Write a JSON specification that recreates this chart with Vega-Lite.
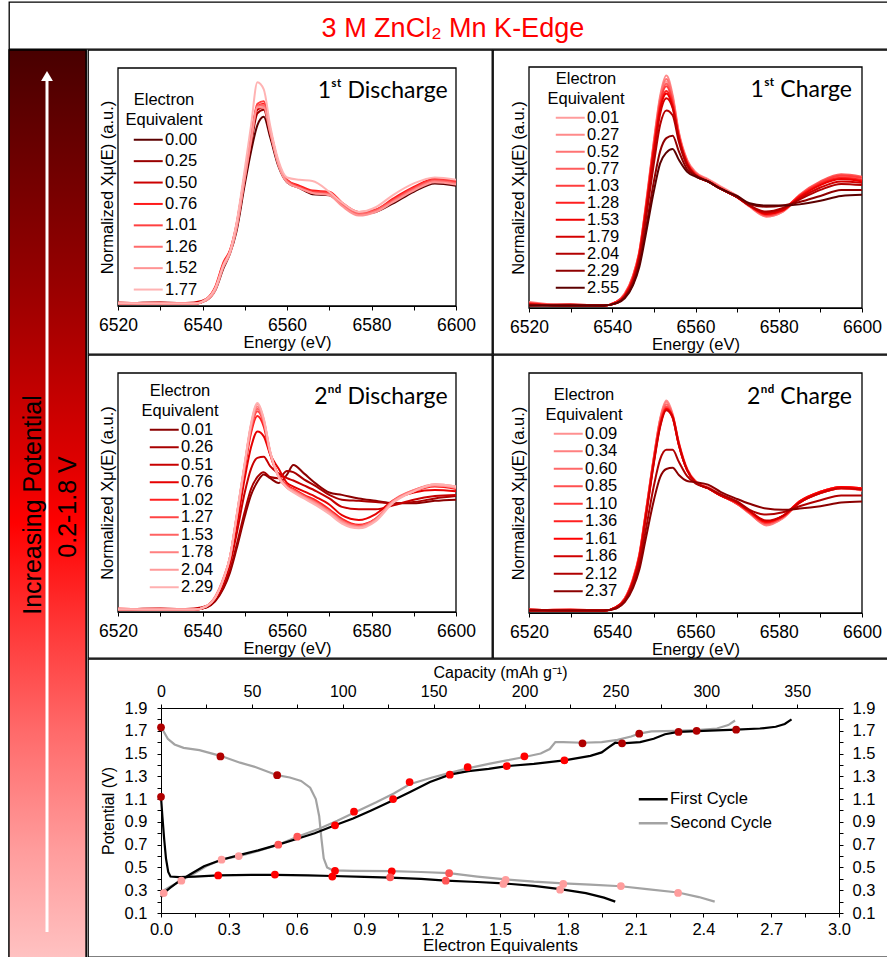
{
"$schema": "https://vega.github.io/schema/vega-lite/v6.json",
"padding": {"left": 7, "top": 1, "right": 0, "bottom": 0},
"background": "#ffffff",
"config": {
  "view": {"stroke": "#000000", "strokeWidth": 1.3},
  "font": "Liberation Sans",
  "axis": {"labelFont": "Liberation Sans", "titleFont": "Liberation Sans", "labelColor": "#000", "titleColor": "#000", "titleFontWeight": "normal", "domainColor": "#000", "tickColor": "#000", "grid": false, "labelFlush": false, "labelOverlap": false},
  "legend": {"labelFont": "Liberation Sans", "titleFont": "Liberation Sans", "labelColor": "#000", "titleColor": "#000", "titleFontWeight": "normal", "padding": 0}
},
"datasets": {
"x1": [
{"k":"0.00","e":6520,"m":0.02},{"k":"0.00","e":6530,"m":0.03},{"k":"0.00","e":6538,"m":0.02},{"k":"0.00","e":6541,"m":0.05},{"k":"0.00","e":6543,"m":0.13},{"k":"0.00","e":6545,"m":0.32},{"k":"0.00","e":6546.5,"m":0.44},{"k":"0.00","e":6548,"m":0.62},{"k":"0.00","e":6550,"m":1.02},{"k":"0.00","e":6551.5,"m":1.30},{"k":"0.00","e":6553,"m":1.52},{"k":"0.00","e":6554.5,"m":1.59},{"k":"0.00","e":6556,"m":1.42},{"k":"0.00","e":6558,"m":1.17},{"k":"0.00","e":6560,"m":1.04},{"k":"0.00","e":6563,"m":0.99},{"k":"0.00","e":6566,"m":0.94},{"k":"0.00","e":6570,"m":0.93},{"k":"0.00","e":6573,"m":0.85},{"k":"0.00","e":6577,"m":0.77},{"k":"0.00","e":6581,"m":0.79},{"k":"0.00","e":6585,"m":0.86},{"k":"0.00","e":6590,"m":0.96},{"k":"0.00","e":6595,"m":1.03},{"k":"0.00","e":6600,"m":1.01},
{"k":"0.25","e":6520,"m":0.02},{"k":"0.25","e":6530,"m":0.02},{"k":"0.25","e":6538,"m":0.02},{"k":"0.25","e":6541,"m":0.06},{"k":"0.25","e":6543,"m":0.14},{"k":"0.25","e":6545,"m":0.34},{"k":"0.25","e":6546.5,"m":0.45},{"k":"0.25","e":6548,"m":0.64},{"k":"0.25","e":6550,"m":1.06},{"k":"0.25","e":6551.5,"m":1.36},{"k":"0.25","e":6553,"m":1.62},{"k":"0.25","e":6554.5,"m":1.65},{"k":"0.25","e":6556,"m":1.45},{"k":"0.25","e":6558,"m":1.19},{"k":"0.25","e":6560,"m":1.05},{"k":"0.25","e":6563,"m":1.00},{"k":"0.25","e":6566,"m":0.95},{"k":"0.25","e":6570,"m":0.94},{"k":"0.25","e":6573,"m":0.86},{"k":"0.25","e":6577,"m":0.78},{"k":"0.25","e":6581,"m":0.80},{"k":"0.25","e":6585,"m":0.88},{"k":"0.25","e":6590,"m":0.98},{"k":"0.25","e":6595,"m":1.05},{"k":"0.25","e":6600,"m":1.03},
{"k":"0.50","e":6520,"m":0.03},{"k":"0.50","e":6530,"m":0.02},{"k":"0.50","e":6538,"m":0.03},{"k":"0.50","e":6541,"m":0.06},{"k":"0.50","e":6543,"m":0.15},{"k":"0.50","e":6545,"m":0.35},{"k":"0.50","e":6546.5,"m":0.46},{"k":"0.50","e":6548,"m":0.66},{"k":"0.50","e":6550,"m":1.08},{"k":"0.50","e":6551.5,"m":1.39},{"k":"0.50","e":6553,"m":1.65},{"k":"0.50","e":6554.5,"m":1.67},{"k":"0.50","e":6556,"m":1.46},{"k":"0.50","e":6558,"m":1.19},{"k":"0.50","e":6560,"m":1.05},{"k":"0.50","e":6563,"m":1.00},{"k":"0.50","e":6566,"m":0.96},{"k":"0.50","e":6570,"m":0.95},{"k":"0.50","e":6573,"m":0.86},{"k":"0.50","e":6577,"m":0.78},{"k":"0.50","e":6581,"m":0.80},{"k":"0.50","e":6585,"m":0.89},{"k":"0.50","e":6590,"m":0.99},{"k":"0.50","e":6595,"m":1.06},{"k":"0.50","e":6600,"m":1.04},
{"k":"0.76","e":6520,"m":0.02},{"k":"0.76","e":6530,"m":0.02},{"k":"0.76","e":6538,"m":0.02},{"k":"0.76","e":6541,"m":0.06},{"k":"0.76","e":6543,"m":0.16},{"k":"0.76","e":6545,"m":0.37},{"k":"0.76","e":6546.5,"m":0.47},{"k":"0.76","e":6548,"m":0.68},{"k":"0.76","e":6550,"m":1.11},{"k":"0.76","e":6551.5,"m":1.42},{"k":"0.76","e":6553,"m":1.68},{"k":"0.76","e":6554.5,"m":1.70},{"k":"0.76","e":6556,"m":1.48},{"k":"0.76","e":6558,"m":1.20},{"k":"0.76","e":6560,"m":1.06},{"k":"0.76","e":6563,"m":1.01},{"k":"0.76","e":6566,"m":0.97},{"k":"0.76","e":6570,"m":0.96},{"k":"0.76","e":6573,"m":0.87},{"k":"0.76","e":6577,"m":0.79},{"k":"0.76","e":6581,"m":0.81},{"k":"0.76","e":6585,"m":0.90},{"k":"0.76","e":6590,"m":1.00},{"k":"0.76","e":6595,"m":1.07},{"k":"0.76","e":6600,"m":1.05},
{"k":"1.01","e":6520,"m":0.02},{"k":"1.01","e":6530,"m":0.03},{"k":"1.01","e":6538,"m":0.02},{"k":"1.01","e":6541,"m":0.06},{"k":"1.01","e":6543,"m":0.15},{"k":"1.01","e":6545,"m":0.36},{"k":"1.01","e":6546.5,"m":0.46},{"k":"1.01","e":6548,"m":0.67},{"k":"1.01","e":6550,"m":1.10},{"k":"1.01","e":6551.5,"m":1.42},{"k":"1.01","e":6553,"m":1.70},{"k":"1.01","e":6554.5,"m":1.72},{"k":"1.01","e":6556,"m":1.49},{"k":"1.01","e":6558,"m":1.20},{"k":"1.01","e":6560,"m":1.06},{"k":"1.01","e":6563,"m":1.00},{"k":"1.01","e":6566,"m":0.96},{"k":"1.01","e":6570,"m":0.95},{"k":"1.01","e":6573,"m":0.86},{"k":"1.01","e":6577,"m":0.78},{"k":"1.01","e":6581,"m":0.81},{"k":"1.01","e":6585,"m":0.89},{"k":"1.01","e":6590,"m":0.99},{"k":"1.01","e":6595,"m":1.06},{"k":"1.01","e":6600,"m":1.04},
{"k":"1.26","e":6520,"m":0.02},{"k":"1.26","e":6530,"m":0.02},{"k":"1.26","e":6538,"m":0.02},{"k":"1.26","e":6541,"m":0.05},{"k":"1.26","e":6543,"m":0.14},{"k":"1.26","e":6545,"m":0.34},{"k":"1.26","e":6546.5,"m":0.45},{"k":"1.26","e":6548,"m":0.65},{"k":"1.26","e":6550,"m":1.08},{"k":"1.26","e":6551.5,"m":1.40},{"k":"1.26","e":6553,"m":1.68},{"k":"1.26","e":6554.5,"m":1.69},{"k":"1.26","e":6556,"m":1.47},{"k":"1.26","e":6558,"m":1.19},{"k":"1.26","e":6560,"m":1.05},{"k":"1.26","e":6563,"m":0.99},{"k":"1.26","e":6566,"m":0.95},{"k":"1.26","e":6570,"m":0.94},{"k":"1.26","e":6573,"m":0.85},{"k":"1.26","e":6577,"m":0.77},{"k":"1.26","e":6581,"m":0.80},{"k":"1.26","e":6585,"m":0.88},{"k":"1.26","e":6590,"m":0.98},{"k":"1.26","e":6595,"m":1.05},{"k":"1.26","e":6600,"m":1.03},
{"k":"1.52","e":6520,"m":0.03},{"k":"1.52","e":6530,"m":0.02},{"k":"1.52","e":6538,"m":0.02},{"k":"1.52","e":6541,"m":0.05},{"k":"1.52","e":6543,"m":0.13},{"k":"1.52","e":6545,"m":0.33},{"k":"1.52","e":6546.5,"m":0.44},{"k":"1.52","e":6548,"m":0.64},{"k":"1.52","e":6550,"m":1.07},{"k":"1.52","e":6551.5,"m":1.39},{"k":"1.52","e":6553,"m":1.67},{"k":"1.52","e":6554.5,"m":1.67},{"k":"1.52","e":6556,"m":1.46},{"k":"1.52","e":6558,"m":1.18},{"k":"1.52","e":6560,"m":1.04},{"k":"1.52","e":6563,"m":0.99},{"k":"1.52","e":6566,"m":0.95},{"k":"1.52","e":6570,"m":0.93},{"k":"1.52","e":6573,"m":0.84},{"k":"1.52","e":6577,"m":0.76},{"k":"1.52","e":6581,"m":0.79},{"k":"1.52","e":6585,"m":0.87},{"k":"1.52","e":6590,"m":0.97},{"k":"1.52","e":6595,"m":1.04},{"k":"1.52","e":6600,"m":1.02},
{"k":"1.77","e":6520,"m":0.02},{"k":"1.77","e":6530,"m":0.02},{"k":"1.77","e":6538,"m":0.02},{"k":"1.77","e":6541,"m":0.06},{"k":"1.77","e":6543,"m":0.15},{"k":"1.77","e":6545,"m":0.35},{"k":"1.77","e":6546.5,"m":0.46},{"k":"1.77","e":6548,"m":0.69},{"k":"1.77","e":6550,"m":1.15},{"k":"1.77","e":6551.5,"m":1.52},{"k":"1.77","e":6553,"m":1.88},{"k":"1.77","e":6554.5,"m":1.82},{"k":"1.77","e":6556,"m":1.52},{"k":"1.77","e":6558,"m":1.22},{"k":"1.77","e":6560,"m":1.08},{"k":"1.77","e":6563,"m":1.06},{"k":"1.77","e":6566,"m":1.05},{"k":"1.77","e":6570,"m":0.96},{"k":"1.77","e":6573,"m":0.87},{"k":"1.77","e":6577,"m":0.79},{"k":"1.77","e":6581,"m":0.83},{"k":"1.77","e":6585,"m":0.93},{"k":"1.77","e":6590,"m":1.03},{"k":"1.77","e":6595,"m":1.08},{"k":"1.77","e":6600,"m":1.06}
],
"x2": [
{"k":"0.01","e":6520,"m":0.04},{"k":"0.01","e":6530,"m":0.02},{"k":"0.01","e":6538,"m":0.02},{"k":"0.01","e":6541,"m":0.05},{"k":"0.01","e":6543,"m":0.11},{"k":"0.01","e":6545,"m":0.26},{"k":"0.01","e":6546.5,"m":0.46},{"k":"0.01","e":6548,"m":0.82},{"k":"0.01","e":6550,"m":1.36},{"k":"0.01","e":6551.5,"m":1.72},{"k":"0.01","e":6553,"m":1.88},{"k":"0.01","e":6554.5,"m":1.74},{"k":"0.01","e":6556,"m":1.44},{"k":"0.01","e":6558,"m":1.22},{"k":"0.01","e":6560,"m":1.12},{"k":"0.01","e":6563,"m":1.06},{"k":"0.01","e":6566,"m":1.00},{"k":"0.01","e":6570,"m":0.93},{"k":"0.01","e":6573,"m":0.85},{"k":"0.01","e":6577,"m":0.77},{"k":"0.01","e":6581,"m":0.81},{"k":"0.01","e":6585,"m":0.93},{"k":"0.01","e":6590,"m":1.03},{"k":"0.01","e":6595,"m":1.08},{"k":"0.01","e":6600,"m":1.06},
{"k":"0.27","e":6520,"m":0.03},{"k":"0.27","e":6530,"m":0.03},{"k":"0.27","e":6538,"m":0.02},{"k":"0.27","e":6541,"m":0.05},{"k":"0.27","e":6543,"m":0.12},{"k":"0.27","e":6545,"m":0.27},{"k":"0.27","e":6546.5,"m":0.47},{"k":"0.27","e":6548,"m":0.84},{"k":"0.27","e":6550,"m":1.39},{"k":"0.27","e":6551.5,"m":1.76},{"k":"0.27","e":6553,"m":1.93},{"k":"0.27","e":6554.5,"m":1.77},{"k":"0.27","e":6556,"m":1.46},{"k":"0.27","e":6558,"m":1.23},{"k":"0.27","e":6560,"m":1.13},{"k":"0.27","e":6563,"m":1.07},{"k":"0.27","e":6566,"m":1.01},{"k":"0.27","e":6570,"m":0.93},{"k":"0.27","e":6573,"m":0.85},{"k":"0.27","e":6577,"m":0.76},{"k":"0.27","e":6581,"m":0.80},{"k":"0.27","e":6585,"m":0.93},{"k":"0.27","e":6590,"m":1.04},{"k":"0.27","e":6595,"m":1.10},{"k":"0.27","e":6600,"m":1.08},
{"k":"0.52","e":6520,"m":0.05},{"k":"0.52","e":6530,"m":0.02},{"k":"0.52","e":6538,"m":0.02},{"k":"0.52","e":6541,"m":0.05},{"k":"0.52","e":6543,"m":0.12},{"k":"0.52","e":6545,"m":0.27},{"k":"0.52","e":6546.5,"m":0.47},{"k":"0.52","e":6548,"m":0.83},{"k":"0.52","e":6550,"m":1.38},{"k":"0.52","e":6551.5,"m":1.74},{"k":"0.52","e":6553,"m":1.90},{"k":"0.52","e":6554.5,"m":1.75},{"k":"0.52","e":6556,"m":1.45},{"k":"0.52","e":6558,"m":1.22},{"k":"0.52","e":6560,"m":1.12},{"k":"0.52","e":6563,"m":1.06},{"k":"0.52","e":6566,"m":1.00},{"k":"0.52","e":6570,"m":0.92},{"k":"0.52","e":6573,"m":0.84},{"k":"0.52","e":6577,"m":0.76},{"k":"0.52","e":6581,"m":0.80},{"k":"0.52","e":6585,"m":0.92},{"k":"0.52","e":6590,"m":1.03},{"k":"0.52","e":6595,"m":1.09},{"k":"0.52","e":6600,"m":1.07},
{"k":"0.77","e":6520,"m":0.03},{"k":"0.77","e":6530,"m":0.02},{"k":"0.77","e":6538,"m":0.02},{"k":"0.77","e":6541,"m":0.05},{"k":"0.77","e":6543,"m":0.11},{"k":"0.77","e":6545,"m":0.26},{"k":"0.77","e":6546.5,"m":0.46},{"k":"0.77","e":6548,"m":0.82},{"k":"0.77","e":6550,"m":1.36},{"k":"0.77","e":6551.5,"m":1.71},{"k":"0.77","e":6553,"m":1.86},{"k":"0.77","e":6554.5,"m":1.72},{"k":"0.77","e":6556,"m":1.44},{"k":"0.77","e":6558,"m":1.21},{"k":"0.77","e":6560,"m":1.12},{"k":"0.77","e":6563,"m":1.06},{"k":"0.77","e":6566,"m":1.00},{"k":"0.77","e":6570,"m":0.92},{"k":"0.77","e":6573,"m":0.85},{"k":"0.77","e":6577,"m":0.77},{"k":"0.77","e":6581,"m":0.81},{"k":"0.77","e":6585,"m":0.94},{"k":"0.77","e":6590,"m":1.05},{"k":"0.77","e":6595,"m":1.11},{"k":"0.77","e":6600,"m":1.09},
{"k":"1.03","e":6520,"m":0.02},{"k":"1.03","e":6530,"m":0.03},{"k":"1.03","e":6538,"m":0.02},{"k":"1.03","e":6541,"m":0.05},{"k":"1.03","e":6543,"m":0.11},{"k":"1.03","e":6545,"m":0.26},{"k":"1.03","e":6546.5,"m":0.45},{"k":"1.03","e":6548,"m":0.81},{"k":"1.03","e":6550,"m":1.35},{"k":"1.03","e":6551.5,"m":1.70},{"k":"1.03","e":6553,"m":1.84},{"k":"1.03","e":6554.5,"m":1.71},{"k":"1.03","e":6556,"m":1.43},{"k":"1.03","e":6558,"m":1.21},{"k":"1.03","e":6560,"m":1.11},{"k":"1.03","e":6563,"m":1.05},{"k":"1.03","e":6566,"m":0.99},{"k":"1.03","e":6570,"m":0.92},{"k":"1.03","e":6573,"m":0.85},{"k":"1.03","e":6577,"m":0.77},{"k":"1.03","e":6581,"m":0.81},{"k":"1.03","e":6585,"m":0.93},{"k":"1.03","e":6590,"m":1.04},{"k":"1.03","e":6595,"m":1.10},{"k":"1.03","e":6600,"m":1.08},
{"k":"1.28","e":6520,"m":0.04},{"k":"1.28","e":6530,"m":0.02},{"k":"1.28","e":6538,"m":0.02},{"k":"1.28","e":6541,"m":0.05},{"k":"1.28","e":6543,"m":0.11},{"k":"1.28","e":6545,"m":0.25},{"k":"1.28","e":6546.5,"m":0.45},{"k":"1.28","e":6548,"m":0.80},{"k":"1.28","e":6550,"m":1.33},{"k":"1.28","e":6551.5,"m":1.67},{"k":"1.28","e":6553,"m":1.80},{"k":"1.28","e":6554.5,"m":1.69},{"k":"1.28","e":6556,"m":1.42},{"k":"1.28","e":6558,"m":1.20},{"k":"1.28","e":6560,"m":1.11},{"k":"1.28","e":6563,"m":1.05},{"k":"1.28","e":6566,"m":0.99},{"k":"1.28","e":6570,"m":0.92},{"k":"1.28","e":6573,"m":0.85},{"k":"1.28","e":6577,"m":0.78},{"k":"1.28","e":6581,"m":0.82},{"k":"1.28","e":6585,"m":0.93},{"k":"1.28","e":6590,"m":1.03},{"k":"1.28","e":6595,"m":1.08},{"k":"1.28","e":6600,"m":1.06},
{"k":"1.53","e":6520,"m":0.03},{"k":"1.53","e":6530,"m":0.02},{"k":"1.53","e":6538,"m":0.02},{"k":"1.53","e":6541,"m":0.04},{"k":"1.53","e":6543,"m":0.10},{"k":"1.53","e":6545,"m":0.24},{"k":"1.53","e":6546.5,"m":0.44},{"k":"1.53","e":6548,"m":0.79},{"k":"1.53","e":6550,"m":1.31},{"k":"1.53","e":6551.5,"m":1.65},{"k":"1.53","e":6553,"m":1.78},{"k":"1.53","e":6554.5,"m":1.67},{"k":"1.53","e":6556,"m":1.41},{"k":"1.53","e":6558,"m":1.20},{"k":"1.53","e":6560,"m":1.10},{"k":"1.53","e":6563,"m":1.05},{"k":"1.53","e":6566,"m":0.99},{"k":"1.53","e":6570,"m":0.92},{"k":"1.53","e":6573,"m":0.85},{"k":"1.53","e":6577,"m":0.78},{"k":"1.53","e":6581,"m":0.81},{"k":"1.53","e":6585,"m":0.92},{"k":"1.53","e":6590,"m":1.02},{"k":"1.53","e":6595,"m":1.07},{"k":"1.53","e":6600,"m":1.05},
{"k":"1.79","e":6520,"m":0.02},{"k":"1.79","e":6530,"m":0.03},{"k":"1.79","e":6538,"m":0.02},{"k":"1.79","e":6541,"m":0.04},{"k":"1.79","e":6543,"m":0.10},{"k":"1.79","e":6545,"m":0.23},{"k":"1.79","e":6546.5,"m":0.42},{"k":"1.79","e":6548,"m":0.76},{"k":"1.79","e":6550,"m":1.27},{"k":"1.79","e":6551.5,"m":1.61},{"k":"1.79","e":6553,"m":1.74},{"k":"1.79","e":6554.5,"m":1.66},{"k":"1.79","e":6556,"m":1.41},{"k":"1.79","e":6558,"m":1.19},{"k":"1.79","e":6560,"m":1.10},{"k":"1.79","e":6563,"m":1.05},{"k":"1.79","e":6566,"m":0.99},{"k":"1.79","e":6570,"m":0.92},{"k":"1.79","e":6573,"m":0.85},{"k":"1.79","e":6577,"m":0.79},{"k":"1.79","e":6581,"m":0.82},{"k":"1.79","e":6585,"m":0.91},{"k":"1.79","e":6590,"m":1.00},{"k":"1.79","e":6595,"m":1.05},{"k":"1.79","e":6600,"m":1.04},
{"k":"2.04","e":6520,"m":0.03},{"k":"2.04","e":6530,"m":0.02},{"k":"2.04","e":6538,"m":0.02},{"k":"2.04","e":6541,"m":0.04},{"k":"2.04","e":6543,"m":0.09},{"k":"2.04","e":6545,"m":0.22},{"k":"2.04","e":6546.5,"m":0.40},{"k":"2.04","e":6548,"m":0.72},{"k":"2.04","e":6550,"m":1.20},{"k":"2.04","e":6551.5,"m":1.52},{"k":"2.04","e":6553,"m":1.64},{"k":"2.04","e":6554.5,"m":1.60},{"k":"2.04","e":6556,"m":1.38},{"k":"2.04","e":6558,"m":1.18},{"k":"2.04","e":6560,"m":1.10},{"k":"2.04","e":6563,"m":1.05},{"k":"2.04","e":6566,"m":0.99},{"k":"2.04","e":6570,"m":0.92},{"k":"2.04","e":6573,"m":0.85},{"k":"2.04","e":6577,"m":0.80},{"k":"2.04","e":6581,"m":0.83},{"k":"2.04","e":6585,"m":0.90},{"k":"2.04","e":6590,"m":0.98},{"k":"2.04","e":6595,"m":1.03},{"k":"2.04","e":6600,"m":1.02},
{"k":"2.29","e":6520,"m":0.02},{"k":"2.29","e":6530,"m":0.02},{"k":"2.29","e":6538,"m":0.02},{"k":"2.29","e":6541,"m":0.04},{"k":"2.29","e":6543,"m":0.09},{"k":"2.29","e":6545,"m":0.20},{"k":"2.29","e":6546.5,"m":0.37},{"k":"2.29","e":6548,"m":0.64},{"k":"2.29","e":6550,"m":1.05},{"k":"2.29","e":6551.5,"m":1.30},{"k":"2.29","e":6553,"m":1.41},{"k":"2.29","e":6554.5,"m":1.43},{"k":"2.29","e":6556,"m":1.30},{"k":"2.29","e":6558,"m":1.15},{"k":"2.29","e":6560,"m":1.10},{"k":"2.29","e":6563,"m":1.05},{"k":"2.29","e":6566,"m":0.99},{"k":"2.29","e":6570,"m":0.92},{"k":"2.29","e":6573,"m":0.86},{"k":"2.29","e":6577,"m":0.84},{"k":"2.29","e":6581,"m":0.85},{"k":"2.29","e":6585,"m":0.88},{"k":"2.29","e":6590,"m":0.93},{"k":"2.29","e":6595,"m":0.98},{"k":"2.29","e":6600,"m":0.98},
{"k":"2.55","e":6520,"m":0.02},{"k":"2.55","e":6530,"m":0.02},{"k":"2.55","e":6538,"m":0.02},{"k":"2.55","e":6541,"m":0.04},{"k":"2.55","e":6543,"m":0.08},{"k":"2.55","e":6545,"m":0.19},{"k":"2.55","e":6546.5,"m":0.34},{"k":"2.55","e":6548,"m":0.60},{"k":"2.55","e":6550,"m":0.97},{"k":"2.55","e":6551.5,"m":1.20},{"k":"2.55","e":6553,"m":1.29},{"k":"2.55","e":6554.5,"m":1.32},{"k":"2.55","e":6556,"m":1.23},{"k":"2.55","e":6558,"m":1.13},{"k":"2.55","e":6560,"m":1.09},{"k":"2.55","e":6563,"m":1.05},{"k":"2.55","e":6566,"m":0.99},{"k":"2.55","e":6570,"m":0.93},{"k":"2.55","e":6573,"m":0.87},{"k":"2.55","e":6577,"m":0.85},{"k":"2.55","e":6581,"m":0.85},{"k":"2.55","e":6585,"m":0.86},{"k":"2.55","e":6590,"m":0.89},{"k":"2.55","e":6595,"m":0.93},{"k":"2.55","e":6600,"m":0.94}
],
"x3": [
{"k":"0.01","e":6520,"m":0.02},{"k":"0.01","e":6530,"m":0.02},{"k":"0.01","e":6538,"m":0.02},{"k":"0.01","e":6541,"m":0.04},{"k":"0.01","e":6543,"m":0.09},{"k":"0.01","e":6545,"m":0.20},{"k":"0.01","e":6546.5,"m":0.33},{"k":"0.01","e":6548,"m":0.52},{"k":"0.01","e":6550,"m":0.80},{"k":"0.01","e":6551.5,"m":0.98},{"k":"0.01","e":6553,"m":1.09},{"k":"0.01","e":6554.5,"m":1.15},{"k":"0.01","e":6556,"m":1.12},{"k":"0.01","e":6558,"m":1.08},{"k":"0.01","e":6560,"m":1.15},{"k":"0.01","e":6561.5,"m":1.23},{"k":"0.01","e":6564,"m":1.16},{"k":"0.01","e":6567,"m":1.07},{"k":"0.01","e":6570,"m":1.00},{"k":"0.01","e":6573,"m":0.98},{"k":"0.01","e":6577,"m":0.95},{"k":"0.01","e":6581,"m":0.93},{"k":"0.01","e":6585,"m":0.91},{"k":"0.01","e":6590,"m":0.91},{"k":"0.01","e":6595,"m":0.93},{"k":"0.01","e":6600,"m":0.94},
{"k":"0.26","e":6520,"m":0.02},{"k":"0.26","e":6530,"m":0.03},{"k":"0.26","e":6538,"m":0.02},{"k":"0.26","e":6541,"m":0.04},{"k":"0.26","e":6543,"m":0.10},{"k":"0.26","e":6545,"m":0.21},{"k":"0.26","e":6546.5,"m":0.35},{"k":"0.26","e":6548,"m":0.55},{"k":"0.26","e":6550,"m":0.84},{"k":"0.26","e":6551.5,"m":1.03},{"k":"0.26","e":6553,"m":1.13},{"k":"0.26","e":6554.5,"m":1.17},{"k":"0.26","e":6556,"m":1.13},{"k":"0.26","e":6558,"m":1.12},{"k":"0.26","e":6560,"m":1.18},{"k":"0.26","e":6561.5,"m":1.17},{"k":"0.26","e":6564,"m":1.11},{"k":"0.26","e":6567,"m":1.05},{"k":"0.26","e":6570,"m":0.98},{"k":"0.26","e":6573,"m":0.94},{"k":"0.26","e":6577,"m":0.93},{"k":"0.26","e":6581,"m":0.92},{"k":"0.26","e":6585,"m":0.91},{"k":"0.26","e":6590,"m":0.92},{"k":"0.26","e":6595,"m":0.95},{"k":"0.26","e":6600,"m":0.97},
{"k":"0.51","e":6520,"m":0.02},{"k":"0.51","e":6530,"m":0.02},{"k":"0.51","e":6538,"m":0.03},{"k":"0.51","e":6541,"m":0.05},{"k":"0.51","e":6543,"m":0.11},{"k":"0.51","e":6545,"m":0.24},{"k":"0.51","e":6546.5,"m":0.40},{"k":"0.51","e":6548,"m":0.64},{"k":"0.51","e":6550,"m":1.00},{"k":"0.51","e":6551.5,"m":1.20},{"k":"0.51","e":6553,"m":1.29},{"k":"0.51","e":6554.5,"m":1.30},{"k":"0.51","e":6556,"m":1.22},{"k":"0.51","e":6558,"m":1.16},{"k":"0.51","e":6560,"m":1.12},{"k":"0.51","e":6561.5,"m":1.10},{"k":"0.51","e":6564,"m":1.06},{"k":"0.51","e":6567,"m":1.01},{"k":"0.51","e":6570,"m":0.95},{"k":"0.51","e":6573,"m":0.88},{"k":"0.51","e":6577,"m":0.86},{"k":"0.51","e":6581,"m":0.86},{"k":"0.51","e":6585,"m":0.89},{"k":"0.51","e":6590,"m":0.94},{"k":"0.51","e":6595,"m":0.97},{"k":"0.51","e":6600,"m":0.98},
{"k":"0.76","e":6520,"m":0.02},{"k":"0.76","e":6530,"m":0.02},{"k":"0.76","e":6538,"m":0.02},{"k":"0.76","e":6541,"m":0.05},{"k":"0.76","e":6543,"m":0.12},{"k":"0.76","e":6545,"m":0.26},{"k":"0.76","e":6546.5,"m":0.43},{"k":"0.76","e":6548,"m":0.70},{"k":"0.76","e":6550,"m":1.12},{"k":"0.76","e":6551.5,"m":1.38},{"k":"0.76","e":6553,"m":1.51},{"k":"0.76","e":6554.5,"m":1.47},{"k":"0.76","e":6556,"m":1.32},{"k":"0.76","e":6558,"m":1.20},{"k":"0.76","e":6560,"m":1.08},{"k":"0.76","e":6561.5,"m":1.05},{"k":"0.76","e":6564,"m":1.01},{"k":"0.76","e":6567,"m":0.96},{"k":"0.76","e":6570,"m":0.90},{"k":"0.76","e":6573,"m":0.81},{"k":"0.76","e":6577,"m":0.77},{"k":"0.76","e":6581,"m":0.82},{"k":"0.76","e":6585,"m":0.93},{"k":"0.76","e":6590,"m":1.00},{"k":"0.76","e":6595,"m":1.02},{"k":"0.76","e":6600,"m":1.01},
{"k":"1.02","e":6520,"m":0.02},{"k":"1.02","e":6530,"m":0.02},{"k":"1.02","e":6538,"m":0.02},{"k":"1.02","e":6541,"m":0.05},{"k":"1.02","e":6543,"m":0.12},{"k":"1.02","e":6545,"m":0.28},{"k":"1.02","e":6546.5,"m":0.45},{"k":"1.02","e":6548,"m":0.76},{"k":"1.02","e":6550,"m":1.20},{"k":"1.02","e":6551.5,"m":1.50},{"k":"1.02","e":6553,"m":1.64},{"k":"1.02","e":6554.5,"m":1.55},{"k":"1.02","e":6556,"m":1.32},{"k":"1.02","e":6558,"m":1.14},{"k":"1.02","e":6560,"m":1.06},{"k":"1.02","e":6561.5,"m":1.03},{"k":"1.02","e":6564,"m":0.98},{"k":"1.02","e":6567,"m":0.93},{"k":"1.02","e":6570,"m":0.86},{"k":"1.02","e":6573,"m":0.78},{"k":"1.02","e":6577,"m":0.73},{"k":"1.02","e":6581,"m":0.78},{"k":"1.02","e":6585,"m":0.92},{"k":"1.02","e":6590,"m":1.01},{"k":"1.02","e":6595,"m":1.05},{"k":"1.02","e":6600,"m":1.03},
{"k":"1.27","e":6520,"m":0.03},{"k":"1.27","e":6530,"m":0.02},{"k":"1.27","e":6538,"m":0.02},{"k":"1.27","e":6541,"m":0.05},{"k":"1.27","e":6543,"m":0.12},{"k":"1.27","e":6545,"m":0.28},{"k":"1.27","e":6546.5,"m":0.45},{"k":"1.27","e":6548,"m":0.77},{"k":"1.27","e":6550,"m":1.22},{"k":"1.27","e":6551.5,"m":1.53},{"k":"1.27","e":6553,"m":1.68},{"k":"1.27","e":6554.5,"m":1.58},{"k":"1.27","e":6556,"m":1.33},{"k":"1.27","e":6558,"m":1.14},{"k":"1.27","e":6560,"m":1.05},{"k":"1.27","e":6561.5,"m":1.02},{"k":"1.27","e":6564,"m":0.97},{"k":"1.27","e":6567,"m":0.92},{"k":"1.27","e":6570,"m":0.85},{"k":"1.27","e":6573,"m":0.77},{"k":"1.27","e":6577,"m":0.72},{"k":"1.27","e":6581,"m":0.78},{"k":"1.27","e":6585,"m":0.92},{"k":"1.27","e":6590,"m":1.01},{"k":"1.27","e":6595,"m":1.06},{"k":"1.27","e":6600,"m":1.04},
{"k":"1.53","e":6520,"m":0.02},{"k":"1.53","e":6530,"m":0.03},{"k":"1.53","e":6538,"m":0.02},{"k":"1.53","e":6541,"m":0.05},{"k":"1.53","e":6543,"m":0.12},{"k":"1.53","e":6545,"m":0.28},{"k":"1.53","e":6546.5,"m":0.46},{"k":"1.53","e":6548,"m":0.78},{"k":"1.53","e":6550,"m":1.23},{"k":"1.53","e":6551.5,"m":1.55},{"k":"1.53","e":6553,"m":1.70},{"k":"1.53","e":6554.5,"m":1.59},{"k":"1.53","e":6556,"m":1.34},{"k":"1.53","e":6558,"m":1.14},{"k":"1.53","e":6560,"m":1.05},{"k":"1.53","e":6561.5,"m":1.02},{"k":"1.53","e":6564,"m":0.97},{"k":"1.53","e":6567,"m":0.91},{"k":"1.53","e":6570,"m":0.84},{"k":"1.53","e":6573,"m":0.76},{"k":"1.53","e":6577,"m":0.72},{"k":"1.53","e":6581,"m":0.78},{"k":"1.53","e":6585,"m":0.93},{"k":"1.53","e":6590,"m":1.02},{"k":"1.53","e":6595,"m":1.06},{"k":"1.53","e":6600,"m":1.04},
{"k":"1.78","e":6520,"m":0.02},{"k":"1.78","e":6530,"m":0.02},{"k":"1.78","e":6538,"m":0.02},{"k":"1.78","e":6541,"m":0.05},{"k":"1.78","e":6543,"m":0.13},{"k":"1.78","e":6545,"m":0.29},{"k":"1.78","e":6546.5,"m":0.46},{"k":"1.78","e":6548,"m":0.79},{"k":"1.78","e":6550,"m":1.24},{"k":"1.78","e":6551.5,"m":1.56},{"k":"1.78","e":6553,"m":1.72},{"k":"1.78","e":6554.5,"m":1.60},{"k":"1.78","e":6556,"m":1.34},{"k":"1.78","e":6558,"m":1.13},{"k":"1.78","e":6560,"m":1.04},{"k":"1.78","e":6561.5,"m":1.01},{"k":"1.78","e":6564,"m":0.96},{"k":"1.78","e":6567,"m":0.91},{"k":"1.78","e":6570,"m":0.84},{"k":"1.78","e":6573,"m":0.76},{"k":"1.78","e":6577,"m":0.71},{"k":"1.78","e":6581,"m":0.77},{"k":"1.78","e":6585,"m":0.92},{"k":"1.78","e":6590,"m":1.02},{"k":"1.78","e":6595,"m":1.07},{"k":"1.78","e":6600,"m":1.05},
{"k":"2.04","e":6520,"m":0.03},{"k":"2.04","e":6530,"m":0.02},{"k":"2.04","e":6538,"m":0.02},{"k":"2.04","e":6541,"m":0.05},{"k":"2.04","e":6543,"m":0.12},{"k":"2.04","e":6545,"m":0.28},{"k":"2.04","e":6546.5,"m":0.46},{"k":"2.04","e":6548,"m":0.78},{"k":"2.04","e":6550,"m":1.24},{"k":"2.04","e":6551.5,"m":1.57},{"k":"2.04","e":6553,"m":1.74},{"k":"2.04","e":6554.5,"m":1.61},{"k":"2.04","e":6556,"m":1.34},{"k":"2.04","e":6558,"m":1.13},{"k":"2.04","e":6560,"m":1.04},{"k":"2.04","e":6561.5,"m":1.01},{"k":"2.04","e":6564,"m":0.96},{"k":"2.04","e":6567,"m":0.90},{"k":"2.04","e":6570,"m":0.83},{"k":"2.04","e":6573,"m":0.75},{"k":"2.04","e":6577,"m":0.71},{"k":"2.04","e":6581,"m":0.77},{"k":"2.04","e":6585,"m":0.92},{"k":"2.04","e":6590,"m":1.01},{"k":"2.04","e":6595,"m":1.06},{"k":"2.04","e":6600,"m":1.04},
{"k":"2.29","e":6520,"m":0.02},{"k":"2.29","e":6530,"m":0.02},{"k":"2.29","e":6538,"m":0.02},{"k":"2.29","e":6541,"m":0.05},{"k":"2.29","e":6543,"m":0.12},{"k":"2.29","e":6545,"m":0.28},{"k":"2.29","e":6546.5,"m":0.46},{"k":"2.29","e":6548,"m":0.79},{"k":"2.29","e":6550,"m":1.25},{"k":"2.29","e":6551.5,"m":1.58},{"k":"2.29","e":6553,"m":1.75},{"k":"2.29","e":6554.5,"m":1.62},{"k":"2.29","e":6556,"m":1.35},{"k":"2.29","e":6558,"m":1.13},{"k":"2.29","e":6560,"m":1.04},{"k":"2.29","e":6561.5,"m":1.00},{"k":"2.29","e":6564,"m":0.95},{"k":"2.29","e":6567,"m":0.89},{"k":"2.29","e":6570,"m":0.82},{"k":"2.29","e":6573,"m":0.74},{"k":"2.29","e":6577,"m":0.70},{"k":"2.29","e":6581,"m":0.76},{"k":"2.29","e":6585,"m":0.91},{"k":"2.29","e":6590,"m":1.01},{"k":"2.29","e":6595,"m":1.07},{"k":"2.29","e":6600,"m":1.05}
],
"x4": [
{"k":"0.09","e":6520,"m":0.03},{"k":"0.09","e":6530,"m":0.02},{"k":"0.09","e":6538,"m":0.02},{"k":"0.09","e":6541,"m":0.05},{"k":"0.09","e":6543,"m":0.12},{"k":"0.09","e":6545,"m":0.28},{"k":"0.09","e":6546.5,"m":0.48},{"k":"0.09","e":6548,"m":0.82},{"k":"0.09","e":6550,"m":1.30},{"k":"0.09","e":6551.5,"m":1.62},{"k":"0.09","e":6553,"m":1.77},{"k":"0.09","e":6554.5,"m":1.66},{"k":"0.09","e":6556,"m":1.42},{"k":"0.09","e":6558,"m":1.20},{"k":"0.09","e":6560,"m":1.10},{"k":"0.09","e":6563,"m":1.05},{"k":"0.09","e":6566,"m":0.99},{"k":"0.09","e":6570,"m":0.92},{"k":"0.09","e":6573,"m":0.84},{"k":"0.09","e":6577,"m":0.74},{"k":"0.09","e":6581,"m":0.79},{"k":"0.09","e":6585,"m":0.92},{"k":"0.09","e":6590,"m":1.00},{"k":"0.09","e":6595,"m":1.04},{"k":"0.09","e":6600,"m":1.02},
{"k":"0.34","e":6520,"m":0.02},{"k":"0.34","e":6530,"m":0.03},{"k":"0.34","e":6538,"m":0.02},{"k":"0.34","e":6541,"m":0.05},{"k":"0.34","e":6543,"m":0.12},{"k":"0.34","e":6545,"m":0.28},{"k":"0.34","e":6546.5,"m":0.48},{"k":"0.34","e":6548,"m":0.82},{"k":"0.34","e":6550,"m":1.29},{"k":"0.34","e":6551.5,"m":1.61},{"k":"0.34","e":6553,"m":1.76},{"k":"0.34","e":6554.5,"m":1.65},{"k":"0.34","e":6556,"m":1.42},{"k":"0.34","e":6558,"m":1.20},{"k":"0.34","e":6560,"m":1.10},{"k":"0.34","e":6563,"m":1.05},{"k":"0.34","e":6566,"m":0.99},{"k":"0.34","e":6570,"m":0.91},{"k":"0.34","e":6573,"m":0.83},{"k":"0.34","e":6577,"m":0.73},{"k":"0.34","e":6581,"m":0.79},{"k":"0.34","e":6585,"m":0.92},{"k":"0.34","e":6590,"m":1.01},{"k":"0.34","e":6595,"m":1.05},{"k":"0.34","e":6600,"m":1.03},
{"k":"0.60","e":6520,"m":0.03},{"k":"0.60","e":6530,"m":0.02},{"k":"0.60","e":6538,"m":0.02},{"k":"0.60","e":6541,"m":0.05},{"k":"0.60","e":6543,"m":0.12},{"k":"0.60","e":6545,"m":0.29},{"k":"0.60","e":6546.5,"m":0.49},{"k":"0.60","e":6548,"m":0.83},{"k":"0.60","e":6550,"m":1.30},{"k":"0.60","e":6551.5,"m":1.61},{"k":"0.60","e":6553,"m":1.74},{"k":"0.60","e":6554.5,"m":1.65},{"k":"0.60","e":6556,"m":1.41},{"k":"0.60","e":6558,"m":1.19},{"k":"0.60","e":6560,"m":1.09},{"k":"0.60","e":6563,"m":1.04},{"k":"0.60","e":6566,"m":0.98},{"k":"0.60","e":6570,"m":0.91},{"k":"0.60","e":6573,"m":0.83},{"k":"0.60","e":6577,"m":0.74},{"k":"0.60","e":6581,"m":0.80},{"k":"0.60","e":6585,"m":0.93},{"k":"0.60","e":6590,"m":1.01},{"k":"0.60","e":6595,"m":1.05},{"k":"0.60","e":6600,"m":1.04},
{"k":"0.85","e":6520,"m":0.02},{"k":"0.85","e":6530,"m":0.02},{"k":"0.85","e":6538,"m":0.02},{"k":"0.85","e":6541,"m":0.05},{"k":"0.85","e":6543,"m":0.12},{"k":"0.85","e":6545,"m":0.28},{"k":"0.85","e":6546.5,"m":0.48},{"k":"0.85","e":6548,"m":0.82},{"k":"0.85","e":6550,"m":1.29},{"k":"0.85","e":6551.5,"m":1.59},{"k":"0.85","e":6553,"m":1.72},{"k":"0.85","e":6554.5,"m":1.64},{"k":"0.85","e":6556,"m":1.41},{"k":"0.85","e":6558,"m":1.19},{"k":"0.85","e":6560,"m":1.09},{"k":"0.85","e":6563,"m":1.04},{"k":"0.85","e":6566,"m":0.98},{"k":"0.85","e":6570,"m":0.91},{"k":"0.85","e":6573,"m":0.84},{"k":"0.85","e":6577,"m":0.75},{"k":"0.85","e":6581,"m":0.80},{"k":"0.85","e":6585,"m":0.93},{"k":"0.85","e":6590,"m":1.01},{"k":"0.85","e":6595,"m":1.05},{"k":"0.85","e":6600,"m":1.04},
{"k":"1.10","e":6520,"m":0.03},{"k":"1.10","e":6530,"m":0.02},{"k":"1.10","e":6538,"m":0.02},{"k":"1.10","e":6541,"m":0.05},{"k":"1.10","e":6543,"m":0.11},{"k":"1.10","e":6545,"m":0.27},{"k":"1.10","e":6546.5,"m":0.47},{"k":"1.10","e":6548,"m":0.81},{"k":"1.10","e":6550,"m":1.28},{"k":"1.10","e":6551.5,"m":1.58},{"k":"1.10","e":6553,"m":1.71},{"k":"1.10","e":6554.5,"m":1.63},{"k":"1.10","e":6556,"m":1.40},{"k":"1.10","e":6558,"m":1.19},{"k":"1.10","e":6560,"m":1.09},{"k":"1.10","e":6563,"m":1.04},{"k":"1.10","e":6566,"m":0.98},{"k":"1.10","e":6570,"m":0.91},{"k":"1.10","e":6573,"m":0.84},{"k":"1.10","e":6577,"m":0.75},{"k":"1.10","e":6581,"m":0.80},{"k":"1.10","e":6585,"m":0.92},{"k":"1.10","e":6590,"m":1.00},{"k":"1.10","e":6595,"m":1.04},{"k":"1.10","e":6600,"m":1.03},
{"k":"1.36","e":6520,"m":0.02},{"k":"1.36","e":6530,"m":0.03},{"k":"1.36","e":6538,"m":0.02},{"k":"1.36","e":6541,"m":0.05},{"k":"1.36","e":6543,"m":0.11},{"k":"1.36","e":6545,"m":0.27},{"k":"1.36","e":6546.5,"m":0.47},{"k":"1.36","e":6548,"m":0.80},{"k":"1.36","e":6550,"m":1.27},{"k":"1.36","e":6551.5,"m":1.57},{"k":"1.36","e":6553,"m":1.70},{"k":"1.36","e":6554.5,"m":1.63},{"k":"1.36","e":6556,"m":1.40},{"k":"1.36","e":6558,"m":1.19},{"k":"1.36","e":6560,"m":1.09},{"k":"1.36","e":6563,"m":1.04},{"k":"1.36","e":6566,"m":0.98},{"k":"1.36","e":6570,"m":0.92},{"k":"1.36","e":6573,"m":0.84},{"k":"1.36","e":6577,"m":0.76},{"k":"1.36","e":6581,"m":0.81},{"k":"1.36","e":6585,"m":0.92},{"k":"1.36","e":6590,"m":1.00},{"k":"1.36","e":6595,"m":1.04},{"k":"1.36","e":6600,"m":1.03},
{"k":"1.61","e":6520,"m":0.02},{"k":"1.61","e":6530,"m":0.02},{"k":"1.61","e":6538,"m":0.02},{"k":"1.61","e":6541,"m":0.05},{"k":"1.61","e":6543,"m":0.11},{"k":"1.61","e":6545,"m":0.27},{"k":"1.61","e":6546.5,"m":0.46},{"k":"1.61","e":6548,"m":0.79},{"k":"1.61","e":6550,"m":1.26},{"k":"1.61","e":6551.5,"m":1.56},{"k":"1.61","e":6553,"m":1.70},{"k":"1.61","e":6554.5,"m":1.64},{"k":"1.61","e":6556,"m":1.41},{"k":"1.61","e":6558,"m":1.19},{"k":"1.61","e":6560,"m":1.09},{"k":"1.61","e":6563,"m":1.04},{"k":"1.61","e":6566,"m":0.98},{"k":"1.61","e":6570,"m":0.92},{"k":"1.61","e":6573,"m":0.85},{"k":"1.61","e":6577,"m":0.76},{"k":"1.61","e":6581,"m":0.81},{"k":"1.61","e":6585,"m":0.93},{"k":"1.61","e":6590,"m":1.01},{"k":"1.61","e":6595,"m":1.05},{"k":"1.61","e":6600,"m":1.04},
{"k":"1.86","e":6520,"m":0.03},{"k":"1.86","e":6530,"m":0.02},{"k":"1.86","e":6538,"m":0.02},{"k":"1.86","e":6541,"m":0.05},{"k":"1.86","e":6543,"m":0.11},{"k":"1.86","e":6545,"m":0.26},{"k":"1.86","e":6546.5,"m":0.45},{"k":"1.86","e":6548,"m":0.78},{"k":"1.86","e":6550,"m":1.25},{"k":"1.86","e":6551.5,"m":1.55},{"k":"1.86","e":6553,"m":1.69},{"k":"1.86","e":6554.5,"m":1.63},{"k":"1.86","e":6556,"m":1.40},{"k":"1.86","e":6558,"m":1.19},{"k":"1.86","e":6560,"m":1.09},{"k":"1.86","e":6563,"m":1.04},{"k":"1.86","e":6566,"m":0.98},{"k":"1.86","e":6570,"m":0.92},{"k":"1.86","e":6573,"m":0.85},{"k":"1.86","e":6577,"m":0.77},{"k":"1.86","e":6581,"m":0.81},{"k":"1.86","e":6585,"m":0.92},{"k":"1.86","e":6590,"m":1.00},{"k":"1.86","e":6595,"m":1.04},{"k":"1.86","e":6600,"m":1.03},
{"k":"2.12","e":6520,"m":0.02},{"k":"2.12","e":6530,"m":0.02},{"k":"2.12","e":6538,"m":0.02},{"k":"2.12","e":6541,"m":0.04},{"k":"2.12","e":6543,"m":0.10},{"k":"2.12","e":6545,"m":0.23},{"k":"2.12","e":6546.5,"m":0.40},{"k":"2.12","e":6548,"m":0.68},{"k":"2.12","e":6550,"m":1.06},{"k":"2.12","e":6551.5,"m":1.28},{"k":"2.12","e":6553,"m":1.36},{"k":"2.12","e":6554.5,"m":1.36},{"k":"2.12","e":6556,"m":1.26},{"k":"2.12","e":6558,"m":1.14},{"k":"2.12","e":6560,"m":1.08},{"k":"2.12","e":6563,"m":1.04},{"k":"2.12","e":6566,"m":0.99},{"k":"2.12","e":6570,"m":0.93},{"k":"2.12","e":6573,"m":0.86},{"k":"2.12","e":6577,"m":0.82},{"k":"2.12","e":6581,"m":0.84},{"k":"2.12","e":6585,"m":0.89},{"k":"2.12","e":6590,"m":0.94},{"k":"2.12","e":6595,"m":0.98},{"k":"2.12","e":6600,"m":0.98},
{"k":"2.37","e":6520,"m":0.02},{"k":"2.37","e":6530,"m":0.02},{"k":"2.37","e":6538,"m":0.02},{"k":"2.37","e":6541,"m":0.04},{"k":"2.37","e":6543,"m":0.09},{"k":"2.37","e":6545,"m":0.21},{"k":"2.37","e":6546.5,"m":0.36},{"k":"2.37","e":6548,"m":0.61},{"k":"2.37","e":6550,"m":0.94},{"k":"2.37","e":6551.5,"m":1.13},{"k":"2.37","e":6553,"m":1.20},{"k":"2.37","e":6554.5,"m":1.21},{"k":"2.37","e":6556,"m":1.15},{"k":"2.37","e":6558,"m":1.10},{"k":"2.37","e":6560,"m":1.09},{"k":"2.37","e":6563,"m":1.07},{"k":"2.37","e":6566,"m":1.01},{"k":"2.37","e":6570,"m":0.95},{"k":"2.37","e":6573,"m":0.91},{"k":"2.37","e":6577,"m":0.87},{"k":"2.37","e":6581,"m":0.86},{"k":"2.37","e":6585,"m":0.87},{"k":"2.37","e":6590,"m":0.89},{"k":"2.37","e":6595,"m":0.92},{"k":"2.37","e":6600,"m":0.93}
],
"ec": [
{"c":"Second Cycle","s":"d2","x":0,"v":1.75},{"c":"Second Cycle","s":"d2","x":0.01,"v":1.7},{"c":"Second Cycle","s":"d2","x":0.03,"v":1.63},{"c":"Second Cycle","s":"d2","x":0.06,"v":1.58},{"c":"Second Cycle","s":"d2","x":0.1,"v":1.55},{"c":"Second Cycle","s":"d2","x":0.17,"v":1.53},{"c":"Second Cycle","s":"d2","x":0.263,"v":1.48},{"c":"Second Cycle","s":"d2","x":0.35,"v":1.42},{"c":"Second Cycle","s":"d2","x":0.42,"v":1.38},{"c":"Second Cycle","s":"d2","x":0.514,"v":1.31},{"c":"Second Cycle","s":"d2","x":0.57,"v":1.29},{"c":"Second Cycle","s":"d2","x":0.62,"v":1.26},{"c":"Second Cycle","s":"d2","x":0.66,"v":1.2},{"c":"Second Cycle","s":"d2","x":0.685,"v":1.1},{"c":"Second Cycle","s":"d2","x":0.7,"v":0.95},{"c":"Second Cycle","s":"d2","x":0.71,"v":0.75},{"c":"Second Cycle","s":"d2","x":0.72,"v":0.58},{"c":"Second Cycle","s":"d2","x":0.735,"v":0.5},{"c":"Second Cycle","s":"d2","x":0.76,"v":0.475},{"c":"Second Cycle","s":"d2","x":0.85,"v":0.47},{"c":"Second Cycle","s":"d2","x":1.02,"v":0.468},{"c":"Second Cycle","s":"d2","x":1.15,"v":0.46},{"c":"Second Cycle","s":"d2","x":1.275,"v":0.45},{"c":"Second Cycle","s":"d2","x":1.4,"v":0.42},{"c":"Second Cycle","s":"d2","x":1.525,"v":0.395},{"c":"Second Cycle","s":"d2","x":1.65,"v":0.375},{"c":"Second Cycle","s":"d2","x":1.78,"v":0.36},{"c":"Second Cycle","s":"d2","x":1.9,"v":0.35},{"c":"Second Cycle","s":"d2","x":2.035,"v":0.335},{"c":"Second Cycle","s":"d2","x":2.15,"v":0.31},{"c":"Second Cycle","s":"d2","x":2.288,"v":0.28},{"c":"Second Cycle","s":"d2","x":2.38,"v":0.24},{"c":"Second Cycle","s":"d2","x":2.45,"v":0.2},
{"c":"Second Cycle","s":"c2","x":0,"v":0.285},{"c":"Second Cycle","s":"c2","x":0.04,"v":0.33},{"c":"Second Cycle","s":"c2","x":0.09,"v":0.384},{"c":"Second Cycle","s":"c2","x":0.15,"v":0.45},{"c":"Second Cycle","s":"c2","x":0.2,"v":0.51},{"c":"Second Cycle","s":"c2","x":0.268,"v":0.57},{"c":"Second Cycle","s":"c2","x":0.344,"v":0.6},{"c":"Second Cycle","s":"c2","x":0.43,"v":0.645},{"c":"Second Cycle","s":"c2","x":0.519,"v":0.7},{"c":"Second Cycle","s":"c2","x":0.603,"v":0.77},{"c":"Second Cycle","s":"c2","x":0.7,"v":0.84},{"c":"Second Cycle","s":"c2","x":0.78,"v":0.91},{"c":"Second Cycle","s":"c2","x":0.854,"v":0.98},{"c":"Second Cycle","s":"c2","x":0.95,"v":1.07},{"c":"Second Cycle","s":"c2","x":1.03,"v":1.15},{"c":"Second Cycle","s":"c2","x":1.1,"v":1.23},{"c":"Second Cycle","s":"c2","x":1.2,"v":1.29},{"c":"Second Cycle","s":"c2","x":1.278,"v":1.33},{"c":"Second Cycle","s":"c2","x":1.357,"v":1.37},{"c":"Second Cycle","s":"c2","x":1.45,"v":1.41},{"c":"Second Cycle","s":"c2","x":1.53,"v":1.44},{"c":"Second Cycle","s":"c2","x":1.608,"v":1.47},{"c":"Second Cycle","s":"c2","x":1.68,"v":1.5},{"c":"Second Cycle","s":"c2","x":1.72,"v":1.54},{"c":"Second Cycle","s":"c2","x":1.745,"v":1.6},{"c":"Second Cycle","s":"c2","x":1.78,"v":1.6},{"c":"Second Cycle","s":"c2","x":1.865,"v":1.595},{"c":"Second Cycle","s":"c2","x":1.95,"v":1.6},{"c":"Second Cycle","s":"c2","x":2.02,"v":1.62},{"c":"Second Cycle","s":"c2","x":2.08,"v":1.65},{"c":"Second Cycle","s":"c2","x":2.116,"v":1.675},{"c":"Second Cycle","s":"c2","x":2.17,"v":1.695},{"c":"Second Cycle","s":"c2","x":2.28,"v":1.7},{"c":"Second Cycle","s":"c2","x":2.37,"v":1.705},{"c":"Second Cycle","s":"c2","x":2.46,"v":1.72},{"c":"Second Cycle","s":"c2","x":2.51,"v":1.75},{"c":"Second Cycle","s":"c2","x":2.54,"v":1.79},
{"c":"First Cycle","s":"d1","x":0,"v":1.12},{"c":"First Cycle","s":"d1","x":0.006,"v":0.95},{"c":"First Cycle","s":"d1","x":0.014,"v":0.75},{"c":"First Cycle","s":"d1","x":0.022,"v":0.58},{"c":"First Cycle","s":"d1","x":0.032,"v":0.46},{"c":"First Cycle","s":"d1","x":0.042,"v":0.42},{"c":"First Cycle","s":"d1","x":0.08,"v":0.415},{"c":"First Cycle","s":"d1","x":0.15,"v":0.42},{"c":"First Cycle","s":"d1","x":0.253,"v":0.43},{"c":"First Cycle","s":"d1","x":0.4,"v":0.435},{"c":"First Cycle","s":"d1","x":0.504,"v":0.435},{"c":"First Cycle","s":"d1","x":0.65,"v":0.43},{"c":"First Cycle","s":"d1","x":0.758,"v":0.425},{"c":"First Cycle","s":"d1","x":0.9,"v":0.418},{"c":"First Cycle","s":"d1","x":1.014,"v":0.41},{"c":"First Cycle","s":"d1","x":1.15,"v":0.4},{"c":"First Cycle","s":"d1","x":1.26,"v":0.385},{"c":"First Cycle","s":"d1","x":1.4,"v":0.372},{"c":"First Cycle","s":"d1","x":1.515,"v":0.36},{"c":"First Cycle","s":"d1","x":1.65,"v":0.338},{"c":"First Cycle","s":"d1","x":1.766,"v":0.31},{"c":"First Cycle","s":"d1","x":1.88,"v":0.275},{"c":"First Cycle","s":"d1","x":1.96,"v":0.235},{"c":"First Cycle","s":"d1","x":2.01,"v":0.2},
{"c":"First Cycle","s":"c1","x":0,"v":0.24},{"c":"First Cycle","s":"c1","x":0.012,"v":0.275},{"c":"First Cycle","s":"c1","x":0.04,"v":0.32},{"c":"First Cycle","s":"c1","x":0.08,"v":0.38},{"c":"First Cycle","s":"c1","x":0.13,"v":0.44},{"c":"First Cycle","s":"c1","x":0.19,"v":0.51},{"c":"First Cycle","s":"c1","x":0.268,"v":0.568},{"c":"First Cycle","s":"c1","x":0.35,"v":0.61},{"c":"First Cycle","s":"c1","x":0.43,"v":0.65},{"c":"First Cycle","s":"c1","x":0.519,"v":0.7},{"c":"First Cycle","s":"c1","x":0.6,"v":0.75},{"c":"First Cycle","s":"c1","x":0.68,"v":0.8},{"c":"First Cycle","s":"c1","x":0.77,"v":0.87},{"c":"First Cycle","s":"c1","x":0.85,"v":0.93},{"c":"First Cycle","s":"c1","x":0.93,"v":1.0},{"c":"First Cycle","s":"c1","x":1.027,"v":1.09},{"c":"First Cycle","s":"c1","x":1.1,"v":1.16},{"c":"First Cycle","s":"c1","x":1.19,"v":1.25},{"c":"First Cycle","s":"c1","x":1.278,"v":1.315},{"c":"First Cycle","s":"c1","x":1.36,"v":1.345},{"c":"First Cycle","s":"c1","x":1.45,"v":1.365},{"c":"First Cycle","s":"c1","x":1.53,"v":1.39},{"c":"First Cycle","s":"c1","x":1.65,"v":1.41},{"c":"First Cycle","s":"c1","x":1.785,"v":1.44},{"c":"First Cycle","s":"c1","x":1.9,"v":1.48},{"c":"First Cycle","s":"c1","x":1.95,"v":1.51},{"c":"First Cycle","s":"c1","x":1.985,"v":1.56},{"c":"First Cycle","s":"c1","x":2.01,"v":1.595},{"c":"First Cycle","s":"c1","x":2.04,"v":1.59},{"c":"First Cycle","s":"c1","x":2.12,"v":1.6},{"c":"First Cycle","s":"c1","x":2.18,"v":1.63},{"c":"First Cycle","s":"c1","x":2.23,"v":1.67},{"c":"First Cycle","s":"c1","x":2.29,"v":1.69},{"c":"First Cycle","s":"c1","x":2.4,"v":1.7},{"c":"First Cycle","s":"c1","x":2.545,"v":1.71},{"c":"First Cycle","s":"c1","x":2.65,"v":1.72},{"c":"First Cycle","s":"c1","x":2.72,"v":1.735},{"c":"First Cycle","s":"c1","x":2.76,"v":1.76},{"c":"First Cycle","s":"c1","x":2.79,"v":1.8}
],
"dots": [
{"x":0,"v":1.73,"t":"dark"},{"x":0,"v":1.12,"t":"dark"},{"x":0.263,"v":1.475,"t":"dark"},{"x":0.514,"v":1.31,"t":"dark"},
{"x":0.253,"v":0.43,"t":"red"},{"x":0.504,"v":0.437,"t":"red"},{"x":0.77,"v":0.47,"t":"red"},{"x":0.758,"v":0.42,"t":"red"},
{"x":1.021,"v":0.466,"t":"red"},{"x":1.014,"v":0.413,"t":"light"},{"x":1.275,"v":0.45,"t":"light"},{"x":1.26,"v":0.384,"t":"light"},
{"x":1.525,"v":0.39,"t":"pale"},{"x":1.515,"v":0.355,"t":"pale"},{"x":1.78,"v":0.355,"t":"pale"},{"x":1.766,"v":0.305,"t":"pale"},{"x":2.035,"v":0.337,"t":"pale"},{"x":2.288,"v":0.276,"t":"pale"},
{"x":0.012,"v":0.275,"t":"pale"},{"x":0.09,"v":0.384,"t":"pale"},{"x":0.268,"v":0.568,"t":"pale"},{"x":0.344,"v":0.6,"t":"pale"},{"x":0.519,"v":0.7,"t":"light"},{"x":0.603,"v":0.77,"t":"light"},
{"x":0.77,"v":0.87,"t":"red"},{"x":0.854,"v":0.99,"t":"red"},{"x":1.027,"v":1.1,"t":"red"},{"x":1.1,"v":1.25,"t":"red"},{"x":1.278,"v":1.315,"t":"red"},{"x":1.357,"v":1.38,"t":"red"},{"x":1.53,"v":1.39,"t":"red"},{"x":1.608,"v":1.476,"t":"red"},{"x":1.785,"v":1.44,"t":"red"},
{"x":1.865,"v":1.59,"t":"dark"},{"x":2.04,"v":1.59,"t":"dark"},{"x":2.116,"v":1.674,"t":"dark"},{"x":2.29,"v":1.69,"t":"dark"},{"x":2.37,"v":1.7,"t":"dark"},{"x":2.545,"v":1.71,"t":"dark"}
],
"frame": [{"e": 6520, "e2": 6600, "m": 0, "m2": 2}]
},
"spacing": -5,
"resolve": {"scale": {"color": "independent"}, "legend": {"color": "independent"}},
"vconcat": [
{
 "width": 879, "height": 47,
 "data": {"values": [{"x": 0.505, "y": 0.43, "t": "3 M ZnCl₂ Mn K-Edge"}]},
 "mark": {"type": "text", "fontSize": 27, "font": "Liberation Sans", "color": "#ff0000", "align": "center", "baseline": "middle"},
 "encoding": {"x": {"field": "x", "type": "quantitative", "scale": {"domain": [0, 1]}, "axis": null}, "y": {"field": "y", "type": "quantitative", "scale": {"domain": [0, 1]}, "axis": null}, "text": {"field": "t"}}
},
{
 "spacing": -7,
 "resolve": {"scale": {"color": "independent"}, "legend": {"color": "independent"}},
 "hconcat": [
  {
   "width": 77, "height": 909,
   "layer": [
    {"data": {"values": [{"a": 0, "b": 77, "c": 0, "d": 909}]},
     "mark": {"type": "rect", "color": {"gradient": "linear", "x1": 0, "y1": 0, "x2": 0, "y2": 1, "stops": [{"offset": 0, "color": "#480000"}, {"offset": 0.25, "color": "#950000"}, {"offset": 0.45, "color": "#dd0000"}, {"offset": 0.52, "color": "#ff0000"}, {"offset": 0.62, "color": "#ff3030"}, {"offset": 0.75, "color": "#ff6a6a"}, {"offset": 0.88, "color": "#ff9c9c"}, {"offset": 1, "color": "#ffc2c2"}]}, "stroke": "#000000", "strokeWidth": 1.3},
     "encoding": {"x": {"field": "a", "type": "quantitative", "scale": {"domain": [0, 77], "nice": false, "zero": false}, "axis": null}, "x2": {"field": "b"}, "y": {"field": "c", "type": "quantitative", "scale": {"domain": [0, 909], "nice": false, "zero": false, "reverse": true}, "axis": null}, "y2": {"field": "d"}}},
    {"data": {"values": [{"a": 38, "c": 28, "d": 882}]},
     "mark": {"type": "rule", "color": "#ffffff", "strokeWidth": 3},
     "encoding": {"x": {"field": "a", "type": "quantitative"}, "y": {"field": "c", "type": "quantitative"}, "y2": {"field": "d"}}},
    {"data": {"values": [{"a": 38, "c": 26}]},
     "mark": {"type": "point", "shape": "triangle-up", "filled": true, "color": "#ffffff", "size": 140, "opacity": 1},
     "encoding": {"x": {"field": "a", "type": "quantitative"}, "y": {"field": "c", "type": "quantitative"}}},
    {"data": {"values": [{"a": 24, "c": 455, "t": "Increasing Potential"}, {"a": 59, "c": 457, "t": "0.2-1.8 V"}]},
     "mark": {"type": "text", "angle": 270, "fontSize": 25, "font": "Liberation Sans", "color": "#000000", "align": "center", "baseline": "middle"},
     "encoding": {"x": {"field": "a", "type": "quantitative"}, "y": {"field": "c", "type": "quantitative"}, "text": {"field": "t"}}}
   ]
  },
  {
   "spacing": -4,
   "resolve": {"scale": {"color": "independent"}, "legend": {"color": "independent"}},
   "vconcat": [
    {
     "spacing": -3,
     "resolve": {"scale": {"color": "independent"}, "legend": {"color": "independent"}},
     "hconcat": [
      {
       "width": 404, "height": 304,
       "layer": [
        {"data": {"name": "frame"}, "mark": {"type": "rect", "fillOpacity": 0, "stroke": "#000000", "strokeWidth": 1.3},
         "encoding": {"x": {"field": "e", "type": "quantitative"}, "x2": {"field": "e2"}, "y": {"field": "m", "type": "quantitative"}, "y2": {"field": "m2"}}},
        {"data": {"name": "x1"}, "mark": {"type": "line", "interpolate": "monotone", "strokeWidth": 2},
         "encoding": {
          "x": {"field": "e", "type": "quantitative", "scale": {"domain": [6520, 6600], "range": [30, 368], "nice": false, "zero": false}, "axis": {"title": "Energy (eV)", "offset": -48, "values": [6520, 6530, 6540, 6550, 6560, 6570, 6580, 6590, 6600], "labelExpr": "datum.value % 20 == 0 ? format(datum.value, 'd') : ''", "labelFontSize": 17.5, "titleFontSize": 16.5, "tickSize": 4, "labelPadding": 6, "titlePadding": 1, "labelOverlap": false}},
          "y": {"field": "m", "type": "quantitative", "scale": {"domain": [0, 2], "range": [256, 18], "nice": false, "zero": false}, "axis": {"title": "Normalized Xμ(E) (a.u.)", "offset": -30, "labels": false, "ticks": false, "domain": false, "titleFontSize": 16.5, "titlePadding": 3}},
          "color": {"field": "k", "type": "nominal", "scale": {"domain": ["0.00","0.25","0.50","0.76","1.01","1.26","1.52","1.77"], "range": ["#5c0000","#990000","#cc0000","#ff1a1a","#ff4040","#ff6b6b","#ff9494","#ffb3b3"]},
           "legend": {"orient": "none", "legendX": 37, "legendY": 42, "title": ["Electron", "Equivalent"], "titleAnchor": "middle", "titleAlign": "center", "titleFontSize": 16.5, "titleLineHeight": 20, "titlePadding": 3, "labelFontSize": 16.5, "rowPadding": 4.4, "symbolType": "M-2.5,0H2.5", "symbolSize": 134, "symbolStrokeWidth": 2, "symbolOffset": 9, "labelOffset": 8.5}}
         }},
        {"data": {"values": [{"e": 6598, "m": 1.81, "t": "1ˢᵗ Discharge"}]},
         "mark": {"type": "text", "align": "right", "baseline": "middle", "font": "Lato", "fontSize": 23, "color": "#000000"},
         "encoding": {"x": {"field": "e", "type": "quantitative"}, "y": {"field": "m", "type": "quantitative"}, "text": {"field": "t"}}}
       ]
      },
      {
       "width": 398, "height": 304,
       "layer": [
        {"data": {"name": "frame"}, "mark": {"type": "rect", "fillOpacity": 0, "stroke": "#000000", "strokeWidth": 1.3},
         "encoding": {"x": {"field": "e", "type": "quantitative"}, "x2": {"field": "e2"}, "y": {"field": "m", "type": "quantitative"}, "y2": {"field": "m2"}}},
        {"data": {"name": "x2"}, "mark": {"type": "line", "interpolate": "monotone", "strokeWidth": 2},
         "encoding": {
          "x": {"field": "e", "type": "quantitative", "scale": {"domain": [6520, 6600], "range": [36, 369], "nice": false, "zero": false}, "axis": {"title": "Energy (eV)", "offset": -46, "values": [6520, 6530, 6540, 6550, 6560, 6570, 6580, 6590, 6600], "labelExpr": "datum.value % 20 == 0 ? format(datum.value, 'd') : ''", "labelFontSize": 17.5, "titleFontSize": 16.5, "tickSize": 4, "labelPadding": 6, "titlePadding": 1, "labelOverlap": false}},
          "y": {"field": "m", "type": "quantitative", "scale": {"domain": [0, 2], "range": [258, 17], "nice": false, "zero": false}, "axis": {"title": "Normalized Xμ(E) (a.u.)", "offset": -36, "labels": false, "ticks": false, "domain": false, "titleFontSize": 16.5, "titlePadding": 3}},
          "color": {"field": "k", "type": "nominal", "scale": {"domain": ["0.01","0.27","0.52","0.77","1.03","1.28","1.53","1.79","2.04","2.29","2.55"], "range": ["#ff9c9c","#ff8a8a","#ff7373","#ff5c5c","#ff3d3d","#ff1f1f","#f00000","#d40000","#b30000","#8f0000","#5c0000"]},
           "legend": {"orient": "none", "legendX": 54, "legendY": 21, "title": ["Electron", "Equivalent"], "titleAnchor": "middle", "titleAlign": "center", "titleFontSize": 16.5, "titleLineHeight": 20, "titlePadding": 2, "labelFontSize": 16.5, "rowPadding": 0, "symbolType": "M-2.5,0H2.5", "symbolSize": 134, "symbolStrokeWidth": 2, "symbolOffset": 9, "labelOffset": 8.5}}
         }},
        {"data": {"values": [{"e": 6597.6, "m": 1.81, "t": "1ˢᵗ Charge"}]},
         "mark": {"type": "text", "align": "right", "baseline": "middle", "font": "Lato", "fontSize": 23, "color": "#000000"},
         "encoding": {"x": {"field": "e", "type": "quantitative"}, "y": {"field": "m", "type": "quantitative"}, "text": {"field": "t"}}}
       ]
      }
     ]
    },
    {
     "spacing": -3,
     "resolve": {"scale": {"color": "independent"}, "legend": {"color": "independent"}},
     "hconcat": [
      {
       "width": 404, "height": 303,
       "layer": [
        {"data": {"name": "frame"}, "mark": {"type": "rect", "fillOpacity": 0, "stroke": "#000000", "strokeWidth": 1.3},
         "encoding": {"x": {"field": "e", "type": "quantitative"}, "x2": {"field": "e2"}, "y": {"field": "m", "type": "quantitative"}, "y2": {"field": "m2"}}},
        {"data": {"name": "x3"}, "mark": {"type": "line", "interpolate": "monotone", "strokeWidth": 2},
         "encoding": {
          "x": {"field": "e", "type": "quantitative", "scale": {"domain": [6520, 6600], "range": [30, 368], "nice": false, "zero": false}, "axis": {"title": "Energy (eV)", "offset": -46, "values": [6520, 6530, 6540, 6550, 6560, 6570, 6580, 6590, 6600], "labelExpr": "datum.value % 20 == 0 ? format(datum.value, 'd') : ''", "labelFontSize": 17.5, "titleFontSize": 16.5, "tickSize": 4, "labelPadding": 6, "titlePadding": 1, "labelOverlap": false}},
          "y": {"field": "m", "type": "quantitative", "scale": {"domain": [0, 2], "range": [257, 18], "nice": false, "zero": false}, "axis": {"title": "Normalized Xμ(E) (a.u.)", "offset": -30, "labels": false, "ticks": false, "domain": false, "titleFontSize": 16.5, "titlePadding": 3}},
          "color": {"field": "k", "type": "nominal", "scale": {"domain": ["0.01","0.26","0.51","0.76","1.02","1.27","1.53","1.78","2.04","2.29"], "range": ["#8b0000","#a80000","#c80000","#e60000","#ff2020","#ff4444","#ff6262","#ff7f7f","#ff9999","#ffb0b0"]},
           "legend": {"orient": "none", "legendX": 53, "legendY": 28, "title": ["Electron", "Equivalent"], "titleAnchor": "middle", "titleAlign": "center", "titleFontSize": 16.5, "titleLineHeight": 20, "titlePadding": 2, "labelFontSize": 16.5, "rowPadding": 0.5, "symbolType": "M-2.5,0H2.5", "symbolSize": 134, "symbolStrokeWidth": 2, "symbolOffset": 9, "labelOffset": 8.5}}
         }},
        {"data": {"values": [{"e": 6598, "m": 1.80, "t": "2ⁿᵈ Discharge"}]},
         "mark": {"type": "text", "align": "right", "baseline": "middle", "font": "Lato", "fontSize": 23, "color": "#000000"},
         "encoding": {"x": {"field": "e", "type": "quantitative"}, "y": {"field": "m", "type": "quantitative"}, "text": {"field": "t"}}}
       ]
      },
      {
       "width": 398, "height": 303,
       "layer": [
        {"data": {"name": "frame"}, "mark": {"type": "rect", "fillOpacity": 0, "stroke": "#000000", "strokeWidth": 1.3},
         "encoding": {"x": {"field": "e", "type": "quantitative"}, "x2": {"field": "e2"}, "y": {"field": "m", "type": "quantitative"}, "y2": {"field": "m2"}}},
        {"data": {"name": "x4"}, "mark": {"type": "line", "interpolate": "monotone", "strokeWidth": 2},
         "encoding": {
          "x": {"field": "e", "type": "quantitative", "scale": {"domain": [6520, 6600], "range": [36, 369], "nice": false, "zero": false}, "axis": {"title": "Energy (eV)", "offset": -45, "values": [6520, 6530, 6540, 6550, 6560, 6570, 6580, 6590, 6600], "labelExpr": "datum.value % 20 == 0 ? format(datum.value, 'd') : ''", "labelFontSize": 17.5, "titleFontSize": 16.5, "tickSize": 4, "labelPadding": 6, "titlePadding": 1, "labelOverlap": false}},
          "y": {"field": "m", "type": "quantitative", "scale": {"domain": [0, 2], "range": [258, 18], "nice": false, "zero": false}, "axis": {"title": "Normalized Xμ(E) (a.u.)", "offset": -36, "labels": false, "ticks": false, "domain": false, "titleFontSize": 16.5, "titlePadding": 3}},
          "color": {"field": "k", "type": "nominal", "scale": {"domain": ["0.09","0.34","0.60","0.85","1.10","1.36","1.61","1.86","2.12","2.37"], "range": ["#ff9090","#ff8080","#ff6868","#ff5050","#ff3838","#ff2020","#ff0000","#d00000","#b00000","#8b0000"]},
           "legend": {"orient": "none", "legendX": 52, "legendY": 32, "title": ["Electron", "Equivalent"], "titleAnchor": "middle", "titleAlign": "center", "titleFontSize": 16.5, "titleLineHeight": 20, "titlePadding": 2, "labelFontSize": 16.5, "rowPadding": 0.5, "symbolType": "M-2.5,0H2.5", "symbolSize": 134, "symbolStrokeWidth": 2, "symbolOffset": 9, "labelOffset": 8.5}}
         }},
        {"data": {"values": [{"e": 6597.6, "m": 1.80, "t": "2ⁿᵈ Charge"}]},
         "mark": {"type": "text", "align": "right", "baseline": "middle", "font": "Lato", "fontSize": 23, "color": "#000000"},
         "encoding": {"x": {"field": "e", "type": "quantitative"}, "y": {"field": "m", "type": "quantitative"}, "text": {"field": "t"}}}
       ]
      }
     ]
    },
    {
     "width": 802, "height": 298,
     "resolve": {"scale": {"x": "independent", "y": "independent"}},
     "layer": [
      {
       "layer": [
        {"data": {"name": "ec"}, "mark": {"type": "line", "strokeWidth": 2.2},
         "encoding": {
          "x": {"field": "x", "type": "quantitative", "scale": {"domain": [0, 3], "range": [73, 751], "nice": false, "zero": false}, "axis": {"title": "Electron Equivalents", "offset": -44, "values": [0, 0.15, 0.3, 0.45, 0.6, 0.75, 0.9, 1.05, 1.2, 1.35, 1.5, 1.65, 1.8, 1.95, 2.1, 2.25, 2.4, 2.55, 2.7, 2.85, 3.0], "labelExpr": "round(datum.value * 100) % 30 == 0 ? format(datum.value, '.1f') : ''", "labelFontSize": 16.5, "titleFontSize": 17, "tickSize": 4, "labelPadding": 4, "titlePadding": 0, "labelOverlap": false}},
          "y": {"field": "v", "type": "quantitative", "scale": {"domain": [0.1, 1.9], "range": [254, 49], "nice": false, "zero": false}, "axis": {"title": "Potential (V)", "offset": -73, "values": [0.1, 0.2, 0.3, 0.4, 0.5, 0.6, 0.7, 0.8, 0.9, 1.0, 1.1, 1.2, 1.3, 1.4, 1.5, 1.6, 1.7, 1.8, 1.9], "labelExpr": "round(datum.value * 10) % 2 == 1 ? format(datum.value, '.1f') : ''", "labelFontSize": 16.5, "titleFontSize": 16, "tickSize": 4, "labelPadding": 10, "titlePadding": 8, "labelOverlap": false}},
          "color": {"field": "c", "type": "nominal", "scale": {"domain": ["First Cycle", "Second Cycle"], "range": ["#000000", "#a3a3a3"]},
           "legend": {"orient": "none", "legendX": 548, "legendY": 132, "title": null, "labelFontSize": 16.5, "rowPadding": 7, "symbolType": "M-2.5,0H2.5", "symbolSize": 134, "symbolStrokeWidth": 2.5, "symbolOffset": 9, "labelOffset": 8.5}},
          "detail": {"field": "s"}
         }},
        {"data": {"name": "dots"}, "mark": {"type": "circle", "size": 60, "opacity": 1},
         "encoding": {
          "x": {"field": "x", "type": "quantitative", "axis": {"title": "Electron Equivalents", "offset": -44, "values": [0, 0.15, 0.3, 0.45, 0.6, 0.75, 0.9, 1.05, 1.2, 1.35, 1.5, 1.65, 1.8, 1.95, 2.1, 2.25, 2.4, 2.55, 2.7, 2.85, 3.0], "labelExpr": "round(datum.value * 100) % 30 == 0 ? format(datum.value, '.1f') : ''", "labelFontSize": 16.5, "titleFontSize": 17, "tickSize": 4, "labelPadding": 4, "titlePadding": 0, "labelOverlap": false}},
          "y": {"field": "v", "type": "quantitative", "axis": {"title": "Potential (V)", "offset": -73, "values": [0.1, 0.2, 0.3, 0.4, 0.5, 0.6, 0.7, 0.8, 0.9, 1.0, 1.1, 1.2, 1.3, 1.4, 1.5, 1.6, 1.7, 1.8, 1.9], "labelExpr": "round(datum.value * 10) % 2 == 1 ? format(datum.value, '.1f') : ''", "labelFontSize": 16.5, "titleFontSize": 16, "tickSize": 4, "labelPadding": 10, "titlePadding": 8, "labelOverlap": false}},
          "fill": {"field": "t", "type": "nominal", "scale": {"domain": ["dark", "red", "light", "pale"], "range": ["#b00000", "#ff0000", "#ff5555", "#ff9d9d"]}, "legend": null}
         }}
       ]
      },
      {"data": {"values": [{"cap": 0, "v2": 0.1}, {"cap": 373, "v2": 1.9}]},
       "mark": {"type": "point", "opacity": 0},
       "encoding": {
        "x": {"field": "cap", "type": "quantitative", "scale": {"domain": [0, 373], "range": [73, 751], "nice": false, "zero": false}, "axis": {"orient": "top", "offset": -49, "title": "Capacity (mAh g⁻¹)", "values": [0, 25, 50, 75, 100, 125, 150, 175, 200, 225, 250, 275, 300, 325, 350], "labelExpr": "datum.value % 50 == 0 ? format(datum.value, 'd') : ''", "labelFontSize": 16, "titleFontSize": 16, "tickSize": 4, "labelPadding": 5, "titlePadding": 3, "labelOverlap": false}},
        "y": {"field": "v2", "type": "quantitative", "scale": {"domain": [0.1, 1.9], "range": [254, 49], "nice": false, "zero": false}, "axis": {"orient": "right", "offset": -51, "title": null, "values": [0.1, 0.2, 0.3, 0.4, 0.5, 0.6, 0.7, 0.8, 0.9, 1.0, 1.1, 1.2, 1.3, 1.4, 1.5, 1.6, 1.7, 1.8, 1.9], "labelExpr": "round(datum.value * 10) % 2 == 1 ? format(datum.value, '.1f') : ''", "labelFontSize": 16.5, "tickSize": 4, "labelPadding": 9, "labelOverlap": false}}
       }}
     ]
    }
   ]
  }
 ]
}
]
}
